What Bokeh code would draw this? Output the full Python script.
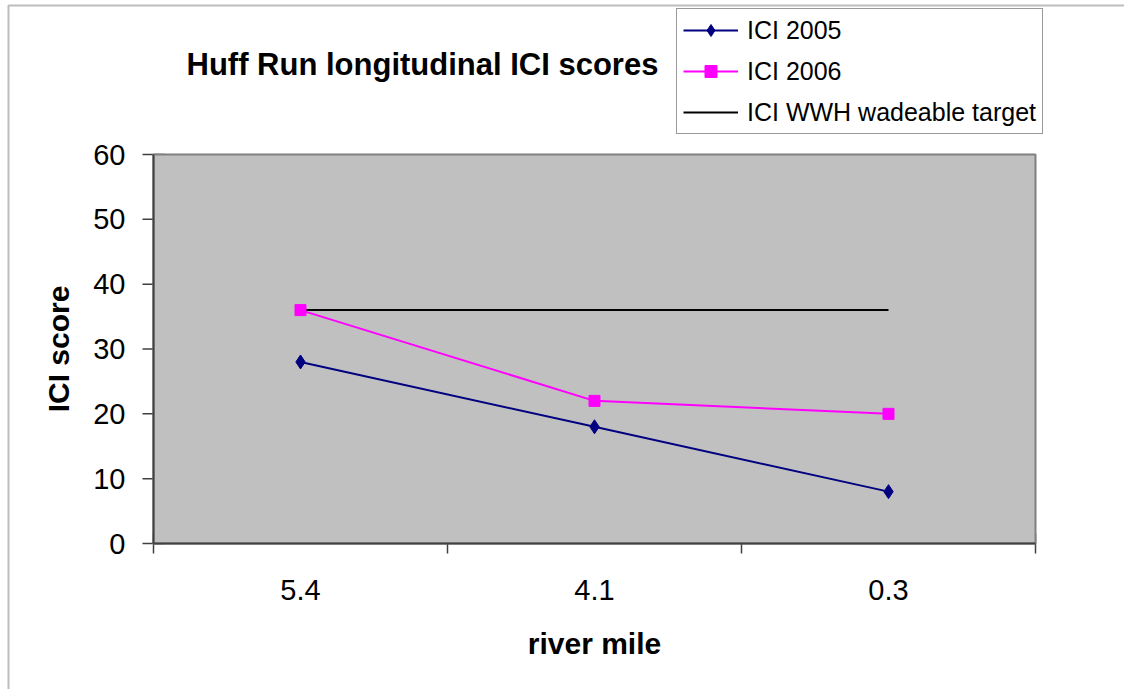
import math

from bokeh.plotting import figure
from bokeh.models import Range1d, Legend, LegendItem, Label, BoxAnnotation
from bokeh.core.properties import value
from bokeh.embed import file_html
from bokeh.resources import INLINE

# ICI scores by river mile (upstream -> downstream)
river_mile = ["5.4", "4.1", "0.3"]
ici_2005 = [28, 18, 8]
ici_2006 = [36, 22, 20]
wwh_target = [36, 36, 36]
y_ticks = [0, 10, 20, 30, 40, 50, 60]

FONT = "Liberation Sans"
NAVY = "#000080"
MAGENTA = "#FF00FF"
AXIS_GREY = "#404040"

# page and plot-area geometry (pixels)
W, H = 1124, 689
PLOT_L, PLOT_R, PLOT_T, PLOT_B = 153, 1035, 154, 543
Y_MAX = y_ticks[-1]

# each river mile occupies one unit-wide bin; points sit at bin centres
n = len(river_mile)
x_pos = [i + 0.5 for i in range(n)]
bin_edges = list(range(n + 1))

# the frame fills the whole page, so ranges are widened to put the
# 0..n / 0..Y_MAX plot area at its place on the page
px_x = (PLOT_R - PLOT_L) / n
px_y = (PLOT_B - PLOT_T) / Y_MAX
x_range = Range1d(-PLOT_L / px_x, n + (W - PLOT_R) / px_x)
y_range = Range1d(-(H - PLOT_B) / px_y, Y_MAX + PLOT_T / px_y)

p = figure(width=W, height=H, x_range=x_range, y_range=y_range,
           x_axis_type=None, y_axis_type=None, title_location=None,
           output_backend="svg", toolbar_location=None, min_border=0)
p.background_fill_color = "white"
p.border_fill_color = "white"
p.outline_line_color = None
p.grid.visible = False

txt = dict(text_font=value(FONT), text_color="black", text_baseline="middle")

# tick marks (the inner half is hidden under the plot area)
p.scatter([0] * len(y_ticks), y_ticks, marker="dash", size=22,
          line_color=AXIS_GREY, line_width=1.5)
p.scatter(bin_edges, [0] * len(bin_edges), marker="dash", size=20, angle=math.pi / 2,
          line_color=AXIS_GREY, line_width=1.5)

# plot area
p.quad(left=0, right=n, bottom=0, top=Y_MAX, fill_color="#C0C0C0",
       line_color="#808080", line_width=2)

# axis lines
p.segment(x0=[0, 0], y0=[0, 0], x1=[0, n], y1=[Y_MAX, 0],
          line_color=AXIS_GREY, line_width=2)

# tick labels
p.text(x=[0] * len(y_ticks), y=y_ticks, text=[str(t) for t in y_ticks],
       x_offset=-28, text_align="right", text_font_size=value("29px"), **txt)
p.text(x=x_pos, y=[0] * n, text=river_mile, y_offset=46,
       text_align="center", text_font_size=value("29px"), **txt)

# axis titles
p.text(x=[0], y=[Y_MAX / 2], text=["ICI score"], x_offset=-95, angle=math.pi / 2,
       text_align="center", text_font_size=value("30px"), text_font_style="bold", **txt)
p.text(x=[n / 2], y=[0], text=["river mile"], y_offset=100,
       text_align="center", text_font_size=value("30px"), text_font_style="bold", **txt)

# series
r_target = p.line(x_pos, wwh_target, line_color="black", line_width=2)
r05_line = p.line(x_pos, ici_2005, line_color=NAVY, line_width=2)
r06_line = p.line(x_pos, ici_2006, line_color=MAGENTA, line_width=2)
r05_pts = p.scatter(x_pos, ici_2005, marker="diamond", size=14,
                    fill_color=NAVY, line_color=NAVY)
r06_pts = p.scatter(x_pos, ici_2006, marker="square", size=11,
                    fill_color=MAGENTA, line_color=MAGENTA)

legend = Legend(items=[
    LegendItem(label="ICI 2005", renderers=[r05_line, r05_pts]),
    LegendItem(label="ICI 2006", renderers=[r06_line, r06_pts]),
    LegendItem(label="ICI WWH wadeable target", renderers=[r_target]),
], location=(676, H - 134), orientation="vertical", margin=0,
    padding=6, spacing=11, glyph_width=55, glyph_height=30, label_height=30,
    label_standoff=9, label_text_font=FONT, label_text_font_size="25px",
    label_text_color="black", border_line_color="#333333", border_line_width=1,
    background_fill_color="white", background_fill_alpha=1)
p.add_layout(legend, "center")

p.add_layout(Label(x=186, y=H - 64, x_units="screen", y_units="screen",
                   text="Huff Run longitudinal ICI scores", text_font=FONT,
                   text_font_size="31px", text_font_style="bold", text_color="black",
                   text_align="left", text_baseline="middle"))

# chart-area border; its right and bottom edges lie off the page
p.add_layout(BoxAnnotation(left=8, right=W + 200, top=H - 5, bottom=-200,
                           left_units="screen", right_units="screen",
                           top_units="screen", bottom_units="screen",
                           fill_alpha=0, line_color="#222222", line_width=2))

open("out.html", "w").write(file_html(p, INLINE))
